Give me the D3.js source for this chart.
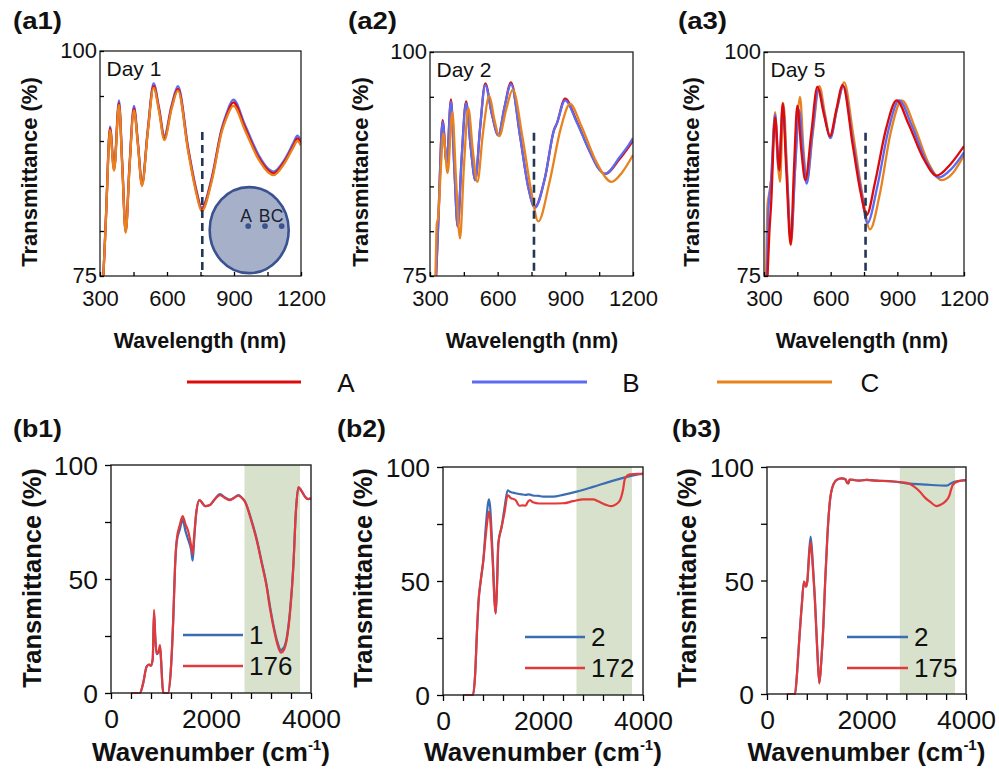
<!DOCTYPE html>
<html><head><meta charset="utf-8">
<script src="https://cdn.jsdelivr.net/npm/d3@7"></script>
<style>body{margin:0;background:#fff}svg{display:block}</style>
</head><body>
<svg id="c" width="999" height="774"></svg>
<script>
// ---------- DATA ----------
const aXTicks = [300,450,600,750,900,1050,1200];
const aXLabels = [300,600,900,1200];
const aYTicks = [75,80,85,90,95,100];
const aYLabels = [75,100];
const bXTicks = [0,400,800,1200,1600,2000,2400,2800,3200,3600,4000];
const bXLabels = [0,2000,4000];
const bYTicks = [0,25,50,75,100];
const bYLabels = [0,50,100];
const aSeriesNames = ["A","B","C"];
const dayLabels = ["Day 1","Day 2","Day 5"];
const dashWavelength = [758,761,757];
const bBand = [2670,3780];

// Panel a1 (Day 1)
const a1A = [[300,70],[315,75],[327,81.7],[345,91.4],[363,86.8],[385,94.2],[400,87.1],[415,79.9],[432,87.1],[452,93.6],[470,89.6],[488,85.1],[514,91.1],[540,96.1],[565,93.4],[588,90.3],[620,93.7],[649,95.8],[695,89],[733,84.2],[755,82.4],[800,85.7],[845,91.2],[867,92.8],[897,94.3],[949,91.5],[1009,88.2],[1054,86.7],[1076,86.4],[1128,87.8],[1166,89.5],[1184,90.3],[1200,89.7]];
const a1B = [[300,70],[315,75],[327,81.8],[345,91.6],[363,87],[385,94.5],[400,87.3],[415,80],[432,87.3],[452,93.9],[470,89.8],[488,85.3],[514,91.3],[540,96.4],[565,93.6],[588,90.6],[620,93.9],[649,96.1],[695,89.2],[733,84.4],[755,82.6],[800,85.9],[845,91.4],[867,93.1],[897,94.6],[949,91.8],[1009,88.5],[1054,86.9],[1076,86.6],[1128,88],[1166,89.8],[1184,90.6],[1200,90]];
const a1C = [[300,70],[315,75],[327,81.6],[345,91.2],[363,86.7],[385,94],[400,87],[415,79.8],[432,87],[452,93.4],[470,89.5],[488,85],[514,91],[540,95.9],[565,93.2],[588,90.1],[620,93.5],[649,95.6],[695,88.8],[733,84],[755,82.2],[800,85.5],[845,91],[867,92.6],[897,93.9],[949,91.2],[1009,88],[1054,86.5],[1076,86.2],[1128,87.6],[1166,89.3],[1184,90],[1200,89.5]];

// Panel a2 (Day 2)
const a2A = [[300,68],[327,75],[337,81.2],[356,92.4],[374,87.6],[393,94.7],[408,87],[423,80.5],[440,88],[460,94.5],[480,89.5],[501,85.7],[522,91.5],[545,96.5],[575,93],[603,90.7],[630,93.8],[659,96.6],[700,90.5],[735,85],[765,82.7],[810,86],[850,91.3],[862,92],[899,94.8],[950,92.3],[1010,88.8],[1050,86.9],[1076,86.4],[1142,88.1],[1175,89.2],[1200,90.1]];
const a2B = [[300,68],[327,75],[337,81.2],[356,92.2],[374,87.6],[393,94.5],[408,87],[423,80.5],[440,88],[460,94.3],[480,89.5],[501,85.7],[522,91.5],[545,96.3],[575,93],[603,90.7],[630,93.8],[659,96.4],[700,90.5],[735,85],[765,82.6],[810,86],[850,91.3],[862,92],[899,94.6],[950,92.2],[1010,88.8],[1050,86.9],[1076,86.4],[1142,88.3],[1175,89.4],[1200,90.4]];
const a2C = [[300,68],[318,72],[324,75],[330,80.8],[336,81.5],[347,86.5],[359,90.9],[378,86.5],[399,93.3],[415,86],[433,79.2],[450,87],[470,93.7],[490,89],[510,85.5],[535,91],[563,95.1],[585,92.5],[607,90.6],[637,93.5],[667,95.8],[710,90.5],[750,84.3],[780,81.1],[830,85.5],[880,91.5],[921,94.2],[970,91.8],[1040,87.6],[1105,85.5],[1150,86.5],[1200,88.5]];

// Panel a3 (Day 5)
const a3A = [[300,64],[316,75],[324,79.8],[332,83],[350,92.7],[369,86.8],[384,94.3],[400,87],[420,78.5],[435,87],[450,94],[468,89],[486,85.7],[513,91],[540,96.1],[570,93],[597,90.6],[625,93.5],[654,96.3],[700,89.5],[735,84.3],[762,81.8],[800,85.5],[850,91.5],[897,94.6],[950,92],[1020,88],[1077,86.2],[1140,87.5],[1200,89.5]];
const a3B = [[300,65],[313,75],[320,82.5],[330,85],[350,93],[366,87],[385,94],[402,87],[421,79],[440,87],[458,93.5],[475,89],[492,85.3],[518,91],[545,95.8],[572,93],[599,90.4],[628,93.6],[657,96.2],[700,90],[738,84.4],[765,80.9],[810,85],[860,91.3],[908,94.6],[965,91.8],[1030,87.8],[1088,86],[1145,87],[1200,88.8]];
const a3C = [[300,66],[309,75],[316,83],[322,84],[335,86.5],[350,93.3],[361,88],[372,85.5],[387,94.3],[405,86],[421,78.5],[440,87],[462,95],[478,89],[492,85.5],[520,91],[549,96.2],[575,93],[597,90.5],[630,93.8],[661,96.6],[700,91],[740,84.5],[777,80.2],[820,84],[870,91],[920,94.6],[980,91.5],[1040,87.6],[1100,85.7],[1150,86.5],[1200,88.5]];

// Panel b1
const b1Names = ["1","176"];
const b1Blue = [[400,0],[580,0],[640,4],[713,11.6],[760,12.5],[800,12],[835,15],[860,35],[885,24],[913,17],[950,18],[980,20],[1000,15],[1030,3],[1047,0],[1140,0],[1190,8],[1247,33.5],[1280,55],[1313,66],[1380,72],[1433,76],[1490,71],[1547,67],[1600,63],[1633,58],[1660,66],[1700,78],[1767,84.6],[1820,83.5],[1880,82],[1980,82.5],[2080,85.2],[2180,87.2],[2280,85.8],[2380,84.8],[2460,85.6],[2547,86.8],[2620,85.6],[2680,84],[2800,76.5],[2913,67.6],[3013,57.6],[3113,47.2],[3180,38],[3247,30],[3320,23],[3400,18.8],[3460,20],[3513,24],[3580,36],[3647,56],[3700,80.5],[3747,90.2],[3800,89],[3880,86.1],[3940,85],[4000,85.4]];
const b1Red = [[400,0],[580,0],[640,4],[713,11.6],[760,12.5],[800,12],[835,15],[860,36.5],[885,25],[913,17.4],[950,18],[980,21],[1000,15],[1030,3],[1047,0],[1140,0],[1190,8],[1247,33.5],[1280,55],[1313,67],[1380,74],[1433,77.6],[1490,74],[1547,70.7],[1600,65],[1633,61],[1660,68],[1700,78],[1767,84.6],[1820,83.5],[1880,82],[1980,82.5],[2080,85],[2180,86.8],[2280,85.5],[2380,84.6],[2460,85.5],[2547,86.6],[2620,85.5],[2680,83.9],[2800,76],[2913,67.1],[3013,57],[3113,46.6],[3180,37],[3247,29.1],[3320,22],[3400,17.7],[3460,19],[3513,23.2],[3580,35],[3647,55.5],[3700,80.3],[3747,90.2],[3800,89],[3880,86.1],[3940,85],[4000,85.4]];

// Panel b2
const b2Names = ["2","172"];
const b2Blue = [[400,0],[600,0],[640,8],[680,28],[707,40],[760,51],[807,59.2],[860,75],[900,84],[920,85.8],[945,82],[970,72],[1000,58],[1030,42],[1053,35.8],[1080,48],[1107,66.5],[1173,73.8],[1230,82],[1293,89.8],[1350,89],[1450,88.5],[1573,88],[1650,87.8],[1720,88],[1800,87.5],[1920,87.3],[2000,87],[2200,87],[2400,87.8],[2673,89.2],[3000,91.3],[3340,93.6],[3740,96],[3900,96.8],[4000,97]];
const b2Red = [[400,0],[600,0],[640,8],[680,28],[707,40],[760,51],[807,59.2],[860,71],[900,78.5],[920,80.4],[945,77],[970,68],[1000,56],[1030,41],[1053,35.8],[1080,48],[1107,66.5],[1173,73.8],[1230,80],[1293,87.7],[1350,86.5],[1450,85.5],[1530,83],[1600,83.2],[1650,83],[1700,84.8],[1740,85.5],[1800,84.5],[1920,84],[2100,84],[2407,84.1],[2600,85],[2807,85.8],[3007,85.8],[3100,85],[3250,83.5],[3373,82.8],[3450,83.5],[3540,85.4],[3600,90],[3640,95],[3740,96.8],[3900,97],[4000,97]];

// Panel b3
const b3Names = ["2","175"];
const b3Blue = [[400,0],[563,0],[600,8],[630,17.9],[697,38.5],[744,49.5],[770,48],[784,47.3],[810,49.5],[845,62],[878,69.3],[920,58],[965,41.4],[1010,20],[1052,4.7],[1090,14],[1132,29.6],[1170,50],[1213,69.3],[1260,84],[1300,89.9],[1400,94.3],[1500,95],[1580,94.5],[1610,93],[1635,92.8],[1660,94.5],[1735,94.3],[1850,94],[2004,94.3],[2200,94],[2539,93.6],[2800,92.8],[3210,92.2],[3612,91.8],[3712,93],[3850,93.8],[4000,94.2]];
const b3Red = [[400,0],[563,0],[600,8],[630,17.9],[697,38.5],[744,49.5],[770,48],[784,47.3],[810,49.5],[845,60],[878,67],[920,56],[965,40],[1010,19],[1052,4.7],[1090,14],[1132,29.6],[1170,50],[1213,69.3],[1260,84],[1300,89.9],[1400,94.3],[1500,95],[1580,94.5],[1610,93],[1635,92.8],[1660,94.5],[1735,94.3],[1850,94],[2004,94.3],[2200,94],[2539,93.6],[2808,93],[2950,91.5],[3075,89.1],[3176,86.5],[3276,84.7],[3411,82.8],[3500,83.5],[3578,84.7],[3665,87.4],[3700,90],[3732,92],[3850,93.8],[4000,94.2]];

// ---------- STYLE ----------
const aColors = {A:"#dd0a0a", B:"#5b6cf2", C:"#e8821f"};
const bBlue = "#3b6db4", bRed = "#e23a3a";
const FONT = "Arial, 'Liberation Sans', Helvetica, sans-serif";

const svg = d3.select("#c");
svg.append("rect").attr("width",999).attr("height",774).attr("fill","#fff");

let clipId = 0;
function addClip(L,T,R,B){
  const id = "clip"+(clipId++);
  svg.append("clipPath").attr("id",id).append("rect").attr("x",L).attr("y",T).attr("width",R-L).attr("height",B-T);
  return id;
}

function styleAxis(g, size){
  g.select(".domain").remove();
  g.selectAll("line").attr("stroke","#000").attr("stroke-width",1.3);
  g.selectAll("text").attr("font-family",FONT).attr("font-size",size).attr("fill","#111");
}

// ---------- PANEL a ----------
function panelA(cfg){
  const x = d3.scaleLinear().domain([300,1200]).range([cfg.L,cfg.R]);
  const y = d3.scaleLinear().domain([75,100]).range([cfg.B,cfg.T]);
  const cid = addClip(cfg.L,cfg.T,cfg.R,cfg.B);
  const line = d3.line().x(d=>x(d[0])).y(d=>y(d[1])).curve(d3.curveMonotoneX);
  const g = svg.append("g").attr("clip-path",`url(#${cid})`);
  cfg.order.forEach(k=>{
    g.append("path").datum(cfg.series[k]).attr("d",line)
      .attr("fill","none").attr("stroke",aColors[k]).attr("stroke-width",2.3).attr("stroke-linejoin","round");
  });
  svg.append("line").attr("x1",x(cfg.dash)).attr("x2",x(cfg.dash)).attr("y1",y(91)).attr("y2",y(75))
    .attr("stroke","#243658").attr("stroke-width",2.6).attr("stroke-dasharray","8,5");
  svg.append("rect").attr("x",cfg.L).attr("y",cfg.T).attr("width",cfg.R-cfg.L).attr("height",cfg.B-cfg.T)
    .attr("fill","none").attr("stroke","#222").attr("stroke-width",1.3);
  const ax = svg.append("g").attr("transform",`translate(0,${cfg.B})`)
    .call(d3.axisBottom(x).tickValues(aXTicks).tickSizeInner(-4).tickSizeOuter(0).tickPadding(14)
      .tickFormat(d=>aXLabels.includes(d)?d:""));
  styleAxis(ax,22);
  const ay = svg.append("g").attr("transform",`translate(${cfg.L},0)`)
    .call(d3.axisLeft(y).tickValues(aYTicks).tickSizeInner(-4).tickSizeOuter(0).tickPadding(3)
      .tickFormat(d=>aYLabels.includes(d)?d:""));
  styleAxis(ay,22);
  ay.selectAll("text").attr("dy","0.3em");
  svg.append("text").attr("x",cfg.L+6.5).attr("y",cfg.T+25).text(cfg.day)
    .attr("font-family",FONT).attr("font-size",21).attr("fill","#111");
  svg.append("text").attr("x",cfg.titleX).attr("y",28.5).text(cfg.title)
    .attr("font-family",FONT).attr("font-weight","bold").attr("font-size",24)
    .attr("textLength",49).attr("lengthAdjust","spacingAndGlyphs").attr("fill","#111");
  svg.append("text").attr("x",cfg.xlabX).attr("y",348).attr("text-anchor","middle").text("Wavelength (nm)")
    .attr("font-family",FONT).attr("font-weight","bold").attr("font-size",21.5).attr("fill","#111");
  svg.append("text").attr("transform",`translate(${cfg.ylabX},172) rotate(-90)`).attr("text-anchor","middle")
    .attr("dy","0.36em").text("Transmittance (%)")
    .attr("font-family",FONT).attr("font-weight","bold").attr("font-size",22).attr("fill","#111");
  return {x,y};
}

const p1 = panelA({L:100,R:301,T:51,B:276,series:{A:a1A,B:a1B,C:a1C},order:["B","A","C"],dash:dashWavelength[0],day:dayLabels[0],title:"(a1)",titleX:13,xlabX:200,ylabX:29});
panelA({L:430,R:633,T:52,B:276,series:{A:a2A,B:a2B,C:a2C},order:["A","B","C"],dash:dashWavelength[1],day:dayLabels[1],title:"(a2)",titleX:348,xlabX:532,ylabX:360});
panelA({L:764,R:964,T:52,B:276,series:{A:a3A,B:a3B,C:a3C},order:["C","B","A"],dash:dashWavelength[2],day:dayLabels[2],title:"(a3)",titleX:678,xlabX:862,ylabX:691});

// inset circle in a1
{
  const cx = p1.x(968), cy = p1.y(80.1);
  svg.append("ellipse").attr("cx",cx).attr("cy",cy).attr("rx",39.5).attr("ry",43)
    .attr("fill","#a6b1c9").attr("stroke","#3a5290").attr("stroke-width",2.6);
  const dots = [-1,15.8,32.5];
  const letters = [-3,15.5,28];
  aSeriesNames.forEach((n,i)=>{
    svg.append("circle").attr("cx",cx+dots[i]).attr("cy",cy-4).attr("r",2.9).attr("fill","#3a5290");
    svg.append("text").attr("x",cx+letters[i]).attr("y",cy-8.5).attr("text-anchor","middle").text(n)
      .attr("font-family",FONT).attr("font-size",17.5).attr("fill","#1b1f33");
  });
}

// top legend
{
  const items = [{k:"A",x1:187,x2:301,tx:346},{k:"B",x1:472,x2:587,tx:631},{k:"C",x1:717,x2:832,tx:870}];
  items.forEach(it=>{
    svg.append("line").attr("x1",it.x1).attr("x2",it.x2).attr("y1",382).attr("y2",382)
      .attr("stroke",aColors[it.k]).attr("stroke-width",3);
    svg.append("text").attr("x",it.tx).attr("y",392).attr("text-anchor","middle").text(it.k)
      .attr("font-family",FONT).attr("font-size",26).attr("fill","#111");
  });
}

// ---------- PANEL b ----------
function panelB(cfg){
  const x = d3.scaleLinear().domain([0,4000]).range([cfg.L,cfg.R]);
  const y = d3.scaleLinear().domain([0,100]).range([cfg.B,cfg.T]);
  svg.append("rect").attr("x",x(bBand[0])).attr("y",cfg.T).attr("width",x(bBand[1])-x(bBand[0])).attr("height",cfg.B-cfg.T)
    .attr("fill","#d7e1cb");
  const line = d3.line().x(d=>x(d[0])).y(d=>y(d[1])).curve(d3.curveMonotoneX);
  svg.append("path").datum(cfg.blue).attr("d",line).attr("fill","none").attr("stroke",bBlue).attr("stroke-width",2.2);
  svg.append("path").datum(cfg.red).attr("d",line).attr("fill","none").attr("stroke",bRed).attr("stroke-width",2.2);
  svg.append("rect").attr("x",cfg.L).attr("y",cfg.T).attr("width",cfg.R-cfg.L).attr("height",cfg.B-cfg.T)
    .attr("fill","none").attr("stroke","#222").attr("stroke-width",1.4);
  const ax = svg.append("g").attr("transform",`translate(0,${cfg.B})`)
    .call(d3.axisBottom(x).tickValues(bXTicks).tickSizeInner(6).tickSizeOuter(0).tickPadding(10)
      .tickFormat(d=>bXLabels.includes(d)?d:""));
  styleAxis(ax,26.5);
  const ay = svg.append("g").attr("transform",`translate(${cfg.L},0)`)
    .call(d3.axisLeft(y).tickValues(bYTicks).tickSizeInner(6).tickSizeOuter(0).tickPadding(7)
      .tickFormat(d=>bYLabels.includes(d)?d:""));
  styleAxis(ay,26.5);
  ay.selectAll("text").attr("dy","0.36em");
  const lg = [{c:bBlue,n:cfg.names[0],y:cfg.T+170},{c:bRed,n:cfg.names[1],y:cfg.T+201}];
  lg.forEach(it=>{
    svg.append("line").attr("x1",cfg.L+cfg.lgX1).attr("x2",cfg.L+cfg.lgX2).attr("y1",it.y).attr("y2",it.y)
      .attr("stroke",it.c).attr("stroke-width",2.4);
    svg.append("text").attr("x",cfg.L+cfg.lgX2+6).attr("y",it.y).attr("dy","0.36em").text(it.n)
      .attr("font-family",FONT).attr("font-size",26).attr("fill","#111");
  });
  svg.append("text").attr("x",cfg.titleX).attr("y",437).text(cfg.title)
    .attr("font-family",FONT).attr("font-weight","bold").attr("font-size",24)
    .attr("textLength",49).attr("lengthAdjust","spacingAndGlyphs").attr("fill","#111");
  const xl = svg.append("text").attr("x",(cfg.L+cfg.R)/2).attr("y",761).attr("text-anchor","middle")
    .attr("font-family",FONT).attr("font-weight","bold").attr("font-size",26).attr("fill","#111");
  xl.append("tspan").text("Wavenumber (cm");
  xl.append("tspan").text("-1").attr("font-size",15).attr("dy",-11);
  xl.append("tspan").text(")").attr("dy",11);
  svg.append("text").attr("transform",`translate(${cfg.ylabX},578) rotate(-90)`).attr("text-anchor","middle")
    .attr("dy","0.36em").text("Transmittance (%)")
    .attr("font-family",FONT).attr("font-weight","bold").attr("font-size",25.5).attr("fill","#111");
}

panelB({L:111,R:311,T:465,B:693,blue:b1Blue,red:b1Red,names:b1Names,lgX1:72,lgX2:132,title:"(b1)",titleX:13,ylabX:32});
panelB({L:443,R:643,T:467,B:695,blue:b2Blue,red:b2Red,names:b2Names,lgX1:82,lgX2:142,title:"(b2)",titleX:337,ylabX:363});
panelB({L:767,R:966,T:467,B:694,blue:b3Blue,red:b3Red,names:b3Names,lgX1:80,lgX2:141,title:"(b3)",titleX:672,ylabX:687});
</script>
</body></html>
